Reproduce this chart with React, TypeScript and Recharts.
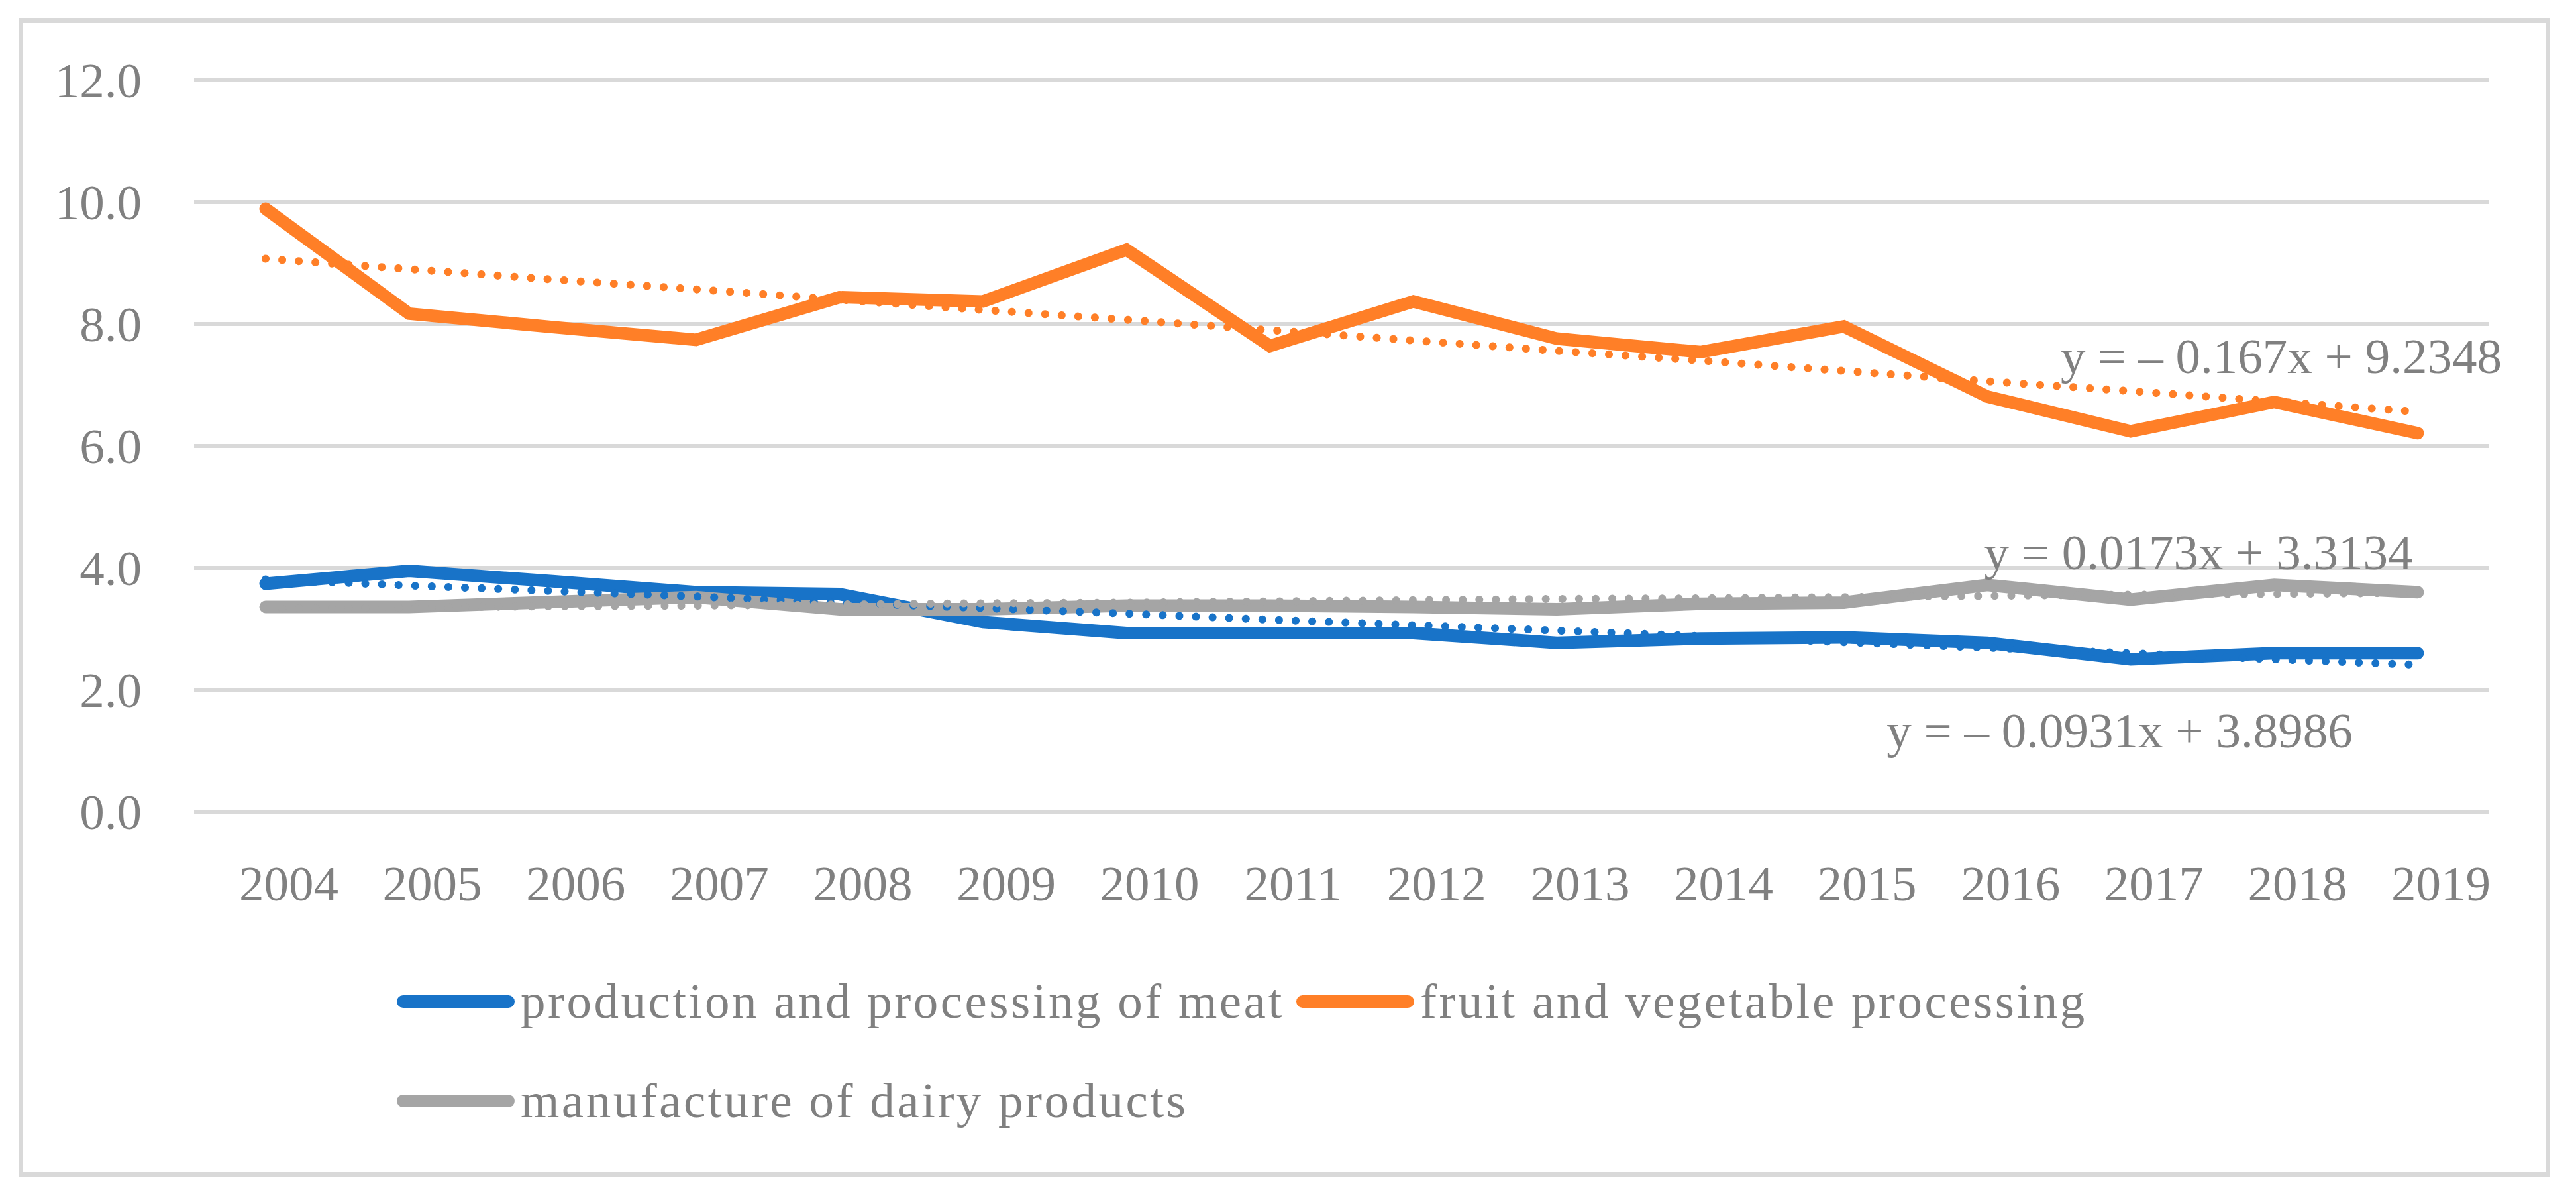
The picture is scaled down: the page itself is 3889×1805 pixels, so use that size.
import React from 'react';
import { LineChart, Line, XAxis, YAxis, CartesianGrid, LabelList } from 'recharts';

// categories
const years = ['2004', '2005', '2006', '2007', '2008', '2009', '2010', '2011', '2012', '2013', '2014', '2015', '2016', '2017', '2018', '2019'];

// series values
const meat = [3.74, 3.95, 3.78, 3.6, 3.57, 3.11, 2.93, 2.93, 2.93, 2.77, 2.84, 2.86, 2.77, 2.5, 2.6, 2.6];
const fruit = [9.89, 8.17, 7.95, 7.74, 8.44, 8.37, 9.22, 7.64, 8.37, 7.76, 7.54, 7.96, 6.81, 6.24, 6.72, 6.21];
const dairy = [3.36, 3.36, 3.44, 3.52, 3.32, 3.32, 3.38, 3.38, 3.36, 3.32, 3.41, 3.43, 3.72, 3.48, 3.72, 3.6];

// linear trend lines as drawn
const meatTrend = [3.81, 3.71, 3.62, 3.53, 3.43, 3.34, 3.25, 3.15, 3.06, 2.97, 2.88, 2.78, 2.69, 2.6, 2.5, 2.41];
const fruitTrend = [9.07, 8.9, 8.73, 8.57, 8.4, 8.23, 8.07, 7.9, 7.73, 7.56, 7.4, 7.23, 7.06, 6.9, 6.73, 6.56];
const dairyTrend = [3.33, 3.35, 3.37, 3.38, 3.4, 3.42, 3.43, 3.45, 3.47, 3.49, 3.5, 3.52, 3.54, 3.56, 3.57, 3.59];

const yTicks = [0, 2, 4, 6, 8, 10, 12];

const seriesNames = ['production and processing of meat', 'fruit and vegetable processing', 'manufacture of dairy products'];
const trendLabels = ['y = – 0.0931x + 3.8986', 'y = – 0.167x + 9.2348', 'y = 0.0173x + 3.3134'];

const BLUE = '#1873C8';
const ORANGE = '#FF7F27';
const GREY = '#A5A5A5';
const TEXT = '#808080';
const LINE = '#D9D9D9';
const FONT = '"Liberation Serif", "Times New Roman", serif';

const data = years.map((year, i) => ({
  year,
  meat: meat[i],
  fruit: fruit[i],
  dairy: dairy[i],
  meatTrend: meatTrend[i],
  fruitTrend: fruitTrend[i],
  dairyTrend: dairyTrend[i],
}));

const W = 3889;
const H = 1805;
const PLOT_BOTTOM = 1225;

const YTick = (props: any) => {
  const { y, payload } = props;
  return (
    <text x={214} y={y} textAnchor="end" dominantBaseline="central" fill={TEXT} fontSize={75} fontFamily={FONT}>
      {Number(payload.value).toFixed(1)}
    </text>
  );
};

const XTick = (props: any) => {
  const { x, payload } = props;
  return (
    <text x={x + 35} y={PLOT_BOTTOM + 108} textAnchor="middle" dominantBaseline="central" fill={TEXT} fontSize={75} fontFamily={FONT}>
      {payload.value}
    </text>
  );
};

// label shown next to the last point of a trend line
const trendLabel = (text: string, dx: number, dy: number) => (props: any) => {
  const { x, y, index } = props;
  if (index !== years.length - 1) return null;
  return (
    <text x={x + dx} y={y + dy} textAnchor="middle" dominantBaseline="central" fill={TEXT} fontSize={75} fontFamily={FONT}>
      {text}
    </text>
  );
};

const legendItems = [
  { name: seriesNames[0], color: BLUE, left: 599, top: 1511 },
  { name: seriesNames[1], color: ORANGE, left: 1957, top: 1511 },
  { name: seriesNames[2], color: GREY, left: 599, top: 1661 },
];

export default function App() {
  return (
    <div style={{ position: 'absolute', left: 0, top: 0, width: W, height: H, background: '#fff', overflow: 'hidden' }}>
      <div
        style={{
          position: 'absolute',
          left: 28,
          top: 27,
          width: 3822,
          height: 1749,
          boxSizing: 'border-box',
          border: `7px solid ${LINE}`,
        }}
      />
      <div style={{ position: 'absolute', left: 0, top: 0 }}>
        <LineChart width={W} height={H} data={data} margin={{ top: 121, right: 131, bottom: 430, left: 0 }}>
          <CartesianGrid horizontal vertical={false} stroke={LINE} strokeWidth={6} />
          <XAxis
            dataKey="year"
            axisLine={false}
            tickLine={false}
            height={150}
            interval={0}
            padding={{ left: 108, right: 108 }}
            tick={<XTick />}
          />
          <YAxis
            domain={[0, 12]}
            ticks={yTicks}
            width={293}
            axisLine={false}
            tickLine={false}
            tick={<YTick />}
          />
          <Line dataKey="meat" name={seriesNames[0]} stroke={BLUE} strokeWidth={19} strokeLinecap="round" dot={false} isAnimationActive={false} />
          <Line dataKey="fruit" name={seriesNames[1]} stroke={ORANGE} strokeWidth={19} strokeLinecap="round" dot={false} isAnimationActive={false} />
          <Line dataKey="dairy" name={seriesNames[2]} stroke={GREY} strokeWidth={19} strokeLinecap="round" dot={false} isAnimationActive={false} />
          <Line dataKey="meatTrend" stroke={BLUE} strokeWidth={12} strokeDasharray="0.1 25" strokeLinecap="round" dot={false} legendType="none" isAnimationActive={false}>
            <LabelList dataKey="meatTrend" content={trendLabel(trendLabels[0], -450, 99)} />
          </Line>
          <Line dataKey="fruitTrend" stroke={ORANGE} strokeWidth={12} strokeDasharray="0.1 25" strokeLinecap="round" dot={false} legendType="none" isAnimationActive={false}>
            <LabelList dataKey="fruitTrend" content={trendLabel(trendLabels[1], -206, -84)} />
          </Line>
          <Line dataKey="dairyTrend" stroke={GREY} strokeWidth={12} strokeDasharray="0.1 25" strokeLinecap="round" dot={false} legendType="none" isAnimationActive={false}>
            <LabelList dataKey="dairyTrend" content={trendLabel(trendLabels[2], -331, -61)} />
          </Line>
        </LineChart>
      </div>
      {legendItems.map((item) => (
        <div
          key={item.name}
          style={{ position: 'absolute', left: item.left, top: item.top - 60, height: 120, display: 'flex', alignItems: 'center' }}
        >
          <span style={{ display: 'inline-block', width: 178, height: 19, borderRadius: 10, background: item.color }} />
          <span
            style={{
              marginLeft: 9,
              fontFamily: FONT,
              fontSize: 75,
              color: TEXT,
              letterSpacing: 3.5,
              whiteSpace: 'nowrap',
              lineHeight: '120px',
            }}
          >
            {item.name}
          </span>
        </div>
      ))}
    </div>
  );
}
